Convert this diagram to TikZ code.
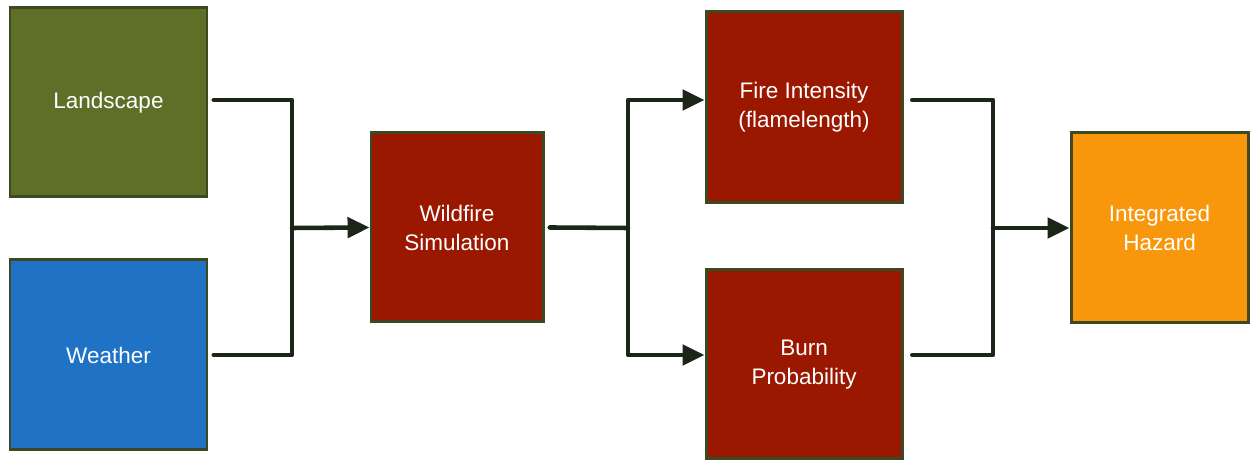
\documentclass[tikz,border=0pt]{standalone}
\usepackage{fontspec}
\setmainfont{Liberation Sans}
\usepackage{xcolor}
\usetikzlibrary{arrows.meta}
\definecolor{wfolive}{HTML}{5F6F27}
\definecolor{wfblue}{HTML}{1F72C4}
\definecolor{wfred}{HTML}{9A1800}
\definecolor{wforange}{HTML}{F8960C}
\definecolor{wfedge}{HTML}{3B4A22}
\definecolor{wfline}{HTML}{1C2618}
\tikzset{
  wfbox/.style={draw=wfedge, line width=1.7pt, text=white, align=center,
    inner sep=0pt, font=\fontsize{12.8}{16.5}\selectfont},
  wflink/.style={line width=2.6pt, draw=wfline, line cap=round, line join=round},
  wfarrow/.style={wflink, -{Triangle[length=12.5pt,width=11.5pt]}},
}

\begin{document}
\begin{tikzpicture}
\useasboundingbox (0,0) rectangle (25.000,9.220);
\node[wfbox, fill=wfolive, minimum width=3.94cm, minimum height=3.78cm] (land) at (2.170,7.170) {Landscape};
\node[wfbox, fill=wfblue, minimum width=3.94cm, minimum height=3.80cm] (weather) at (2.170,2.120) {Weather};
\node[wfbox, fill=wfred, minimum width=3.44cm, minimum height=3.78cm] (sim) at (9.140,4.670) {Wildfire\\Simulation};
\node[wfbox, fill=wfred, minimum width=3.92cm, minimum height=3.82cm] (fire) at (16.080,7.070) {Fire Intensity\\(flamelength)};
\node[wfbox, fill=wfred, minimum width=3.92cm, minimum height=3.78cm] (burn) at (16.080,1.930) {Burn\\Probability};
\node[wfbox, fill=wforange, minimum width=3.54cm, minimum height=3.80cm] (haz) at (23.190,4.660) {Integrated\\Hazard};
% junctions
\coordinate (j1) at (5.840,4.660);
\coordinate (j2) at (12.560,4.660);
\coordinate (j3) at (19.860,4.660);
\coordinate (ytop) at (0,7.220);
\coordinate (ybot) at (0,2.120);
% inputs
\draw[wflink] ([xshift=3pt]land.east |- ytop) -| (j1);
\draw[wflink] ([xshift=3pt]weather.east |- ybot) -| (j1);
\draw[wfarrow] (j1) -- (sim.west);
% outputs of simulation
\draw[wflink] ([xshift=3pt]sim.east) -- (j2);
\draw[wfarrow] (j2) |- (fire.west |- ytop);
\draw[wfarrow] (j2) |- (burn.west |- ybot);
% hazard
\draw[wflink] ([xshift=5pt]fire.east |- ytop) -| (j3);
\draw[wflink] ([xshift=5pt]burn.east |- ybot) -| (j3);
\draw[wfarrow] (j3) -- (haz.west);
\end{tikzpicture}
\end{document}
